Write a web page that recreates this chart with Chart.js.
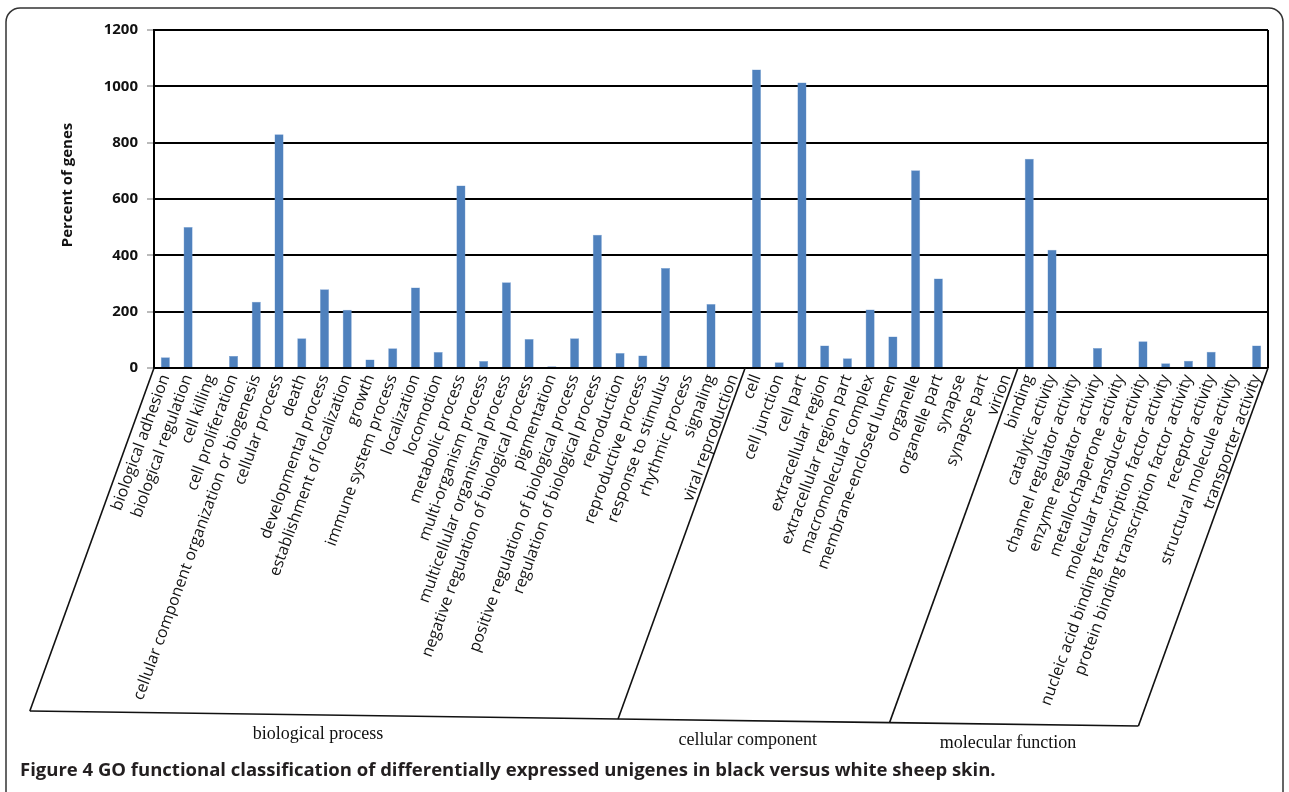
<!DOCTYPE html>
<html>
<head>
<meta charset="utf-8">
<script src="https://cdn.jsdelivr.net/npm/chart.js@4.4.1/dist/chart.umd.min.js"></script>
<style>
  html, body { margin: 0; padding: 0; background: #fff; }
  #go-chart { display: block; }
</style>
</head>
<body>
<canvas id="go-chart" width="1289" height="792"></canvas>
<script>
const bioTerms = [
  'biological adhesion', 'biological regulation', 'cell killing', 'cell proliferation',
  'cellular component organization or biogenesis', 'cellular process', 'death',
  'developmental process', 'establishment of localization', 'growth',
  'immune system process', 'localization', 'locomotion', 'metabolic process',
  'multi-organism process', 'multicellular organismal process',
  'negative regulation of biological process', 'pigmentation',
  'positive regulation of biological process', 'regulation of biological process',
  'reproduction', 'reproductive process', 'response to stimulus', 'rhythmic process',
  'signaling', 'viral reproduction'
];
const bioValues = [38, 501, 0, 43, 235, 830, 106, 280, 207, 30, 70, 286, 57, 648, 25,
  304, 103, 6, 106, 473, 53, 44, 355, 0, 227, 0];

const compTerms = [
  'cell', 'cell junction', 'cell part', 'extracellular region', 'extracellular region part',
  'macromolecular complex', 'membrane-enclosed lumen', 'organelle', 'organelle part',
  'synapse', 'synapse part', 'virion'
];
const compValues = [1060, 20, 1014, 80, 35, 208, 112, 702, 318, 0, 0, 0];

const funcTerms = [
  'binding', 'catalytic activity', 'channel regulator activity', 'enzyme regulator activity',
  'metallochaperone activity', 'molecular transducer activity',
  'nucleic acid binding transcription factor activity',
  'protein binding transcription factor activity', 'receptor activity',
  'structural molecule activity', 'transporter activity'
];
const funcValues = [743, 420, 0, 71, 0, 95, 17, 26, 58, 0, 80];

const groupNames = ['biological process', 'cellular component', 'molecular function'];
const yTicks = [0, 200, 400, 600, 800, 1000, 1200];

const labels = [...bioTerms, ...compTerms, ...funcTerms];
const values = [...bioValues, ...compValues, ...funcValues];
const groupSizes = [bioTerms.length, compTerms.length, funcTerms.length];

// slanted group brackets under the axis, y title, frame and caption
const decorations = {
  id: 'decorations',
  afterDraw(chart) {
    const ctx = chart.ctx;
    const area = chart.chartArea;
    const step = (area.right - area.left) / labels.length;
    const slant = 0.362;

    // boundary positions on the axis
    const tops = [area.left];
    let n = 0;
    groupSizes.forEach(s => { n += s; tops.push(area.left + n * step); });
    tops[tops.length - 1] = area.right;

    const pts = tops.map(xt => {
      const yb = 711 + (xt - area.left) / (area.right - area.left) * 15;
      return { xt, yb, xb: xt - (yb - area.bottom) * slant };
    });

    ctx.save();
    ctx.strokeStyle = '#111';
    ctx.lineWidth = 1.6;
    pts.forEach(p => {
      ctx.beginPath();
      ctx.moveTo(p.xt, area.bottom);
      ctx.lineTo(p.xb, p.yb);
      ctx.stroke();
    });
    ctx.beginPath();
    ctx.moveTo(pts[0].xb, pts[0].yb);
    pts.slice(1).forEach(p => ctx.lineTo(p.xb, p.yb));
    ctx.stroke();

    ctx.fillStyle = '#111';
    ctx.font = '18px "Liberation Serif"';
    ctx.textAlign = 'center';
    ctx.textBaseline = 'middle';
    groupNames.forEach((g, i) => {
      const cx = (pts[i].xb + pts[i + 1].xb) / 2 - 6;
      const cy = (pts[i].yb + pts[i + 1].yb) / 2 + 19;
      ctx.fillText(g, cx, cy);
    });

    // y axis title
    ctx.save();
    ctx.translate(68, 185);
    ctx.rotate(-Math.PI / 2);
    ctx.font = 'bold 15px "Open Sans"';
    ctx.fillText('Percent of genes', 0, 0);
    ctx.restore();

    // right border of plot
    ctx.strokeStyle = '#000';
    ctx.lineWidth = 2;
    ctx.beginPath();
    ctx.moveTo(area.right, area.top);
    ctx.lineTo(area.right, area.bottom);
    ctx.stroke();

    // outer frame
    ctx.strokeStyle = '#333';
    ctx.lineWidth = 1.5;
    ctx.beginPath();
    ctx.roundRect(6, 8, 1277, 800, 14);
    ctx.stroke();

    // caption
    ctx.textAlign = 'left';
    ctx.textBaseline = 'alphabetic';
    ctx.fillStyle = '#231f20';
    ctx.font = 'bold 18.5px "Open Sans"';
    ctx.fillText('Figure 4 GO functional classification of differentially expressed unigenes in black versus white sheep skin.', 20, 776);
    ctx.restore();
  }
};

new Chart(document.getElementById('go-chart'), {
  type: 'bar',
  data: {
    labels: labels,
    datasets: [{
      data: values,
      backgroundColor: '#4F81BD',
      borderColor: '#7fa6d6',
      borderWidth: 0.5,
      barPercentage: 0.4,
      categoryPercentage: 1.0
    }]
  },
  options: {
    responsive: false,
    animation: false,
    layout: { padding: { top: 30, right: 21, bottom: 0, left: 0 } },
    plugins: { legend: { display: false }, tooltip: { enabled: false } },
    scales: {
      x: {
        grid: { display: false, drawTicks: false },
        border: { display: false },
        ticks: {
          autoSkip: false,
          minRotation: 70,
          maxRotation: 70,
          padding: 4,
          color: '#111',
          font: { family: '"Open Sans"', size: 16 }
        },
        afterFit(scale) { scale.height = 424; }
      },
      y: {
        min: 0,
        max: 1200,
        afterBuildTicks(scale) { scale.ticks = yTicks.map(v => ({ value: v })); },
        grid: { color: '#000', lineWidth: 2, tickLength: 7, tickColor: '#777', tickWidth: 1 },
        border: { display: true, color: '#000', width: 2 },
        ticks: {
          padding: 9,
          color: '#111',
          font: { family: '"Open Sans"', size: 15, weight: 'bold' },
          callback: v => String(v)
        },
        afterFit(scale) { scale.width = 154; }
      }
    }
  },
  plugins: [decorations]
});
</script>
</body>
</html>
